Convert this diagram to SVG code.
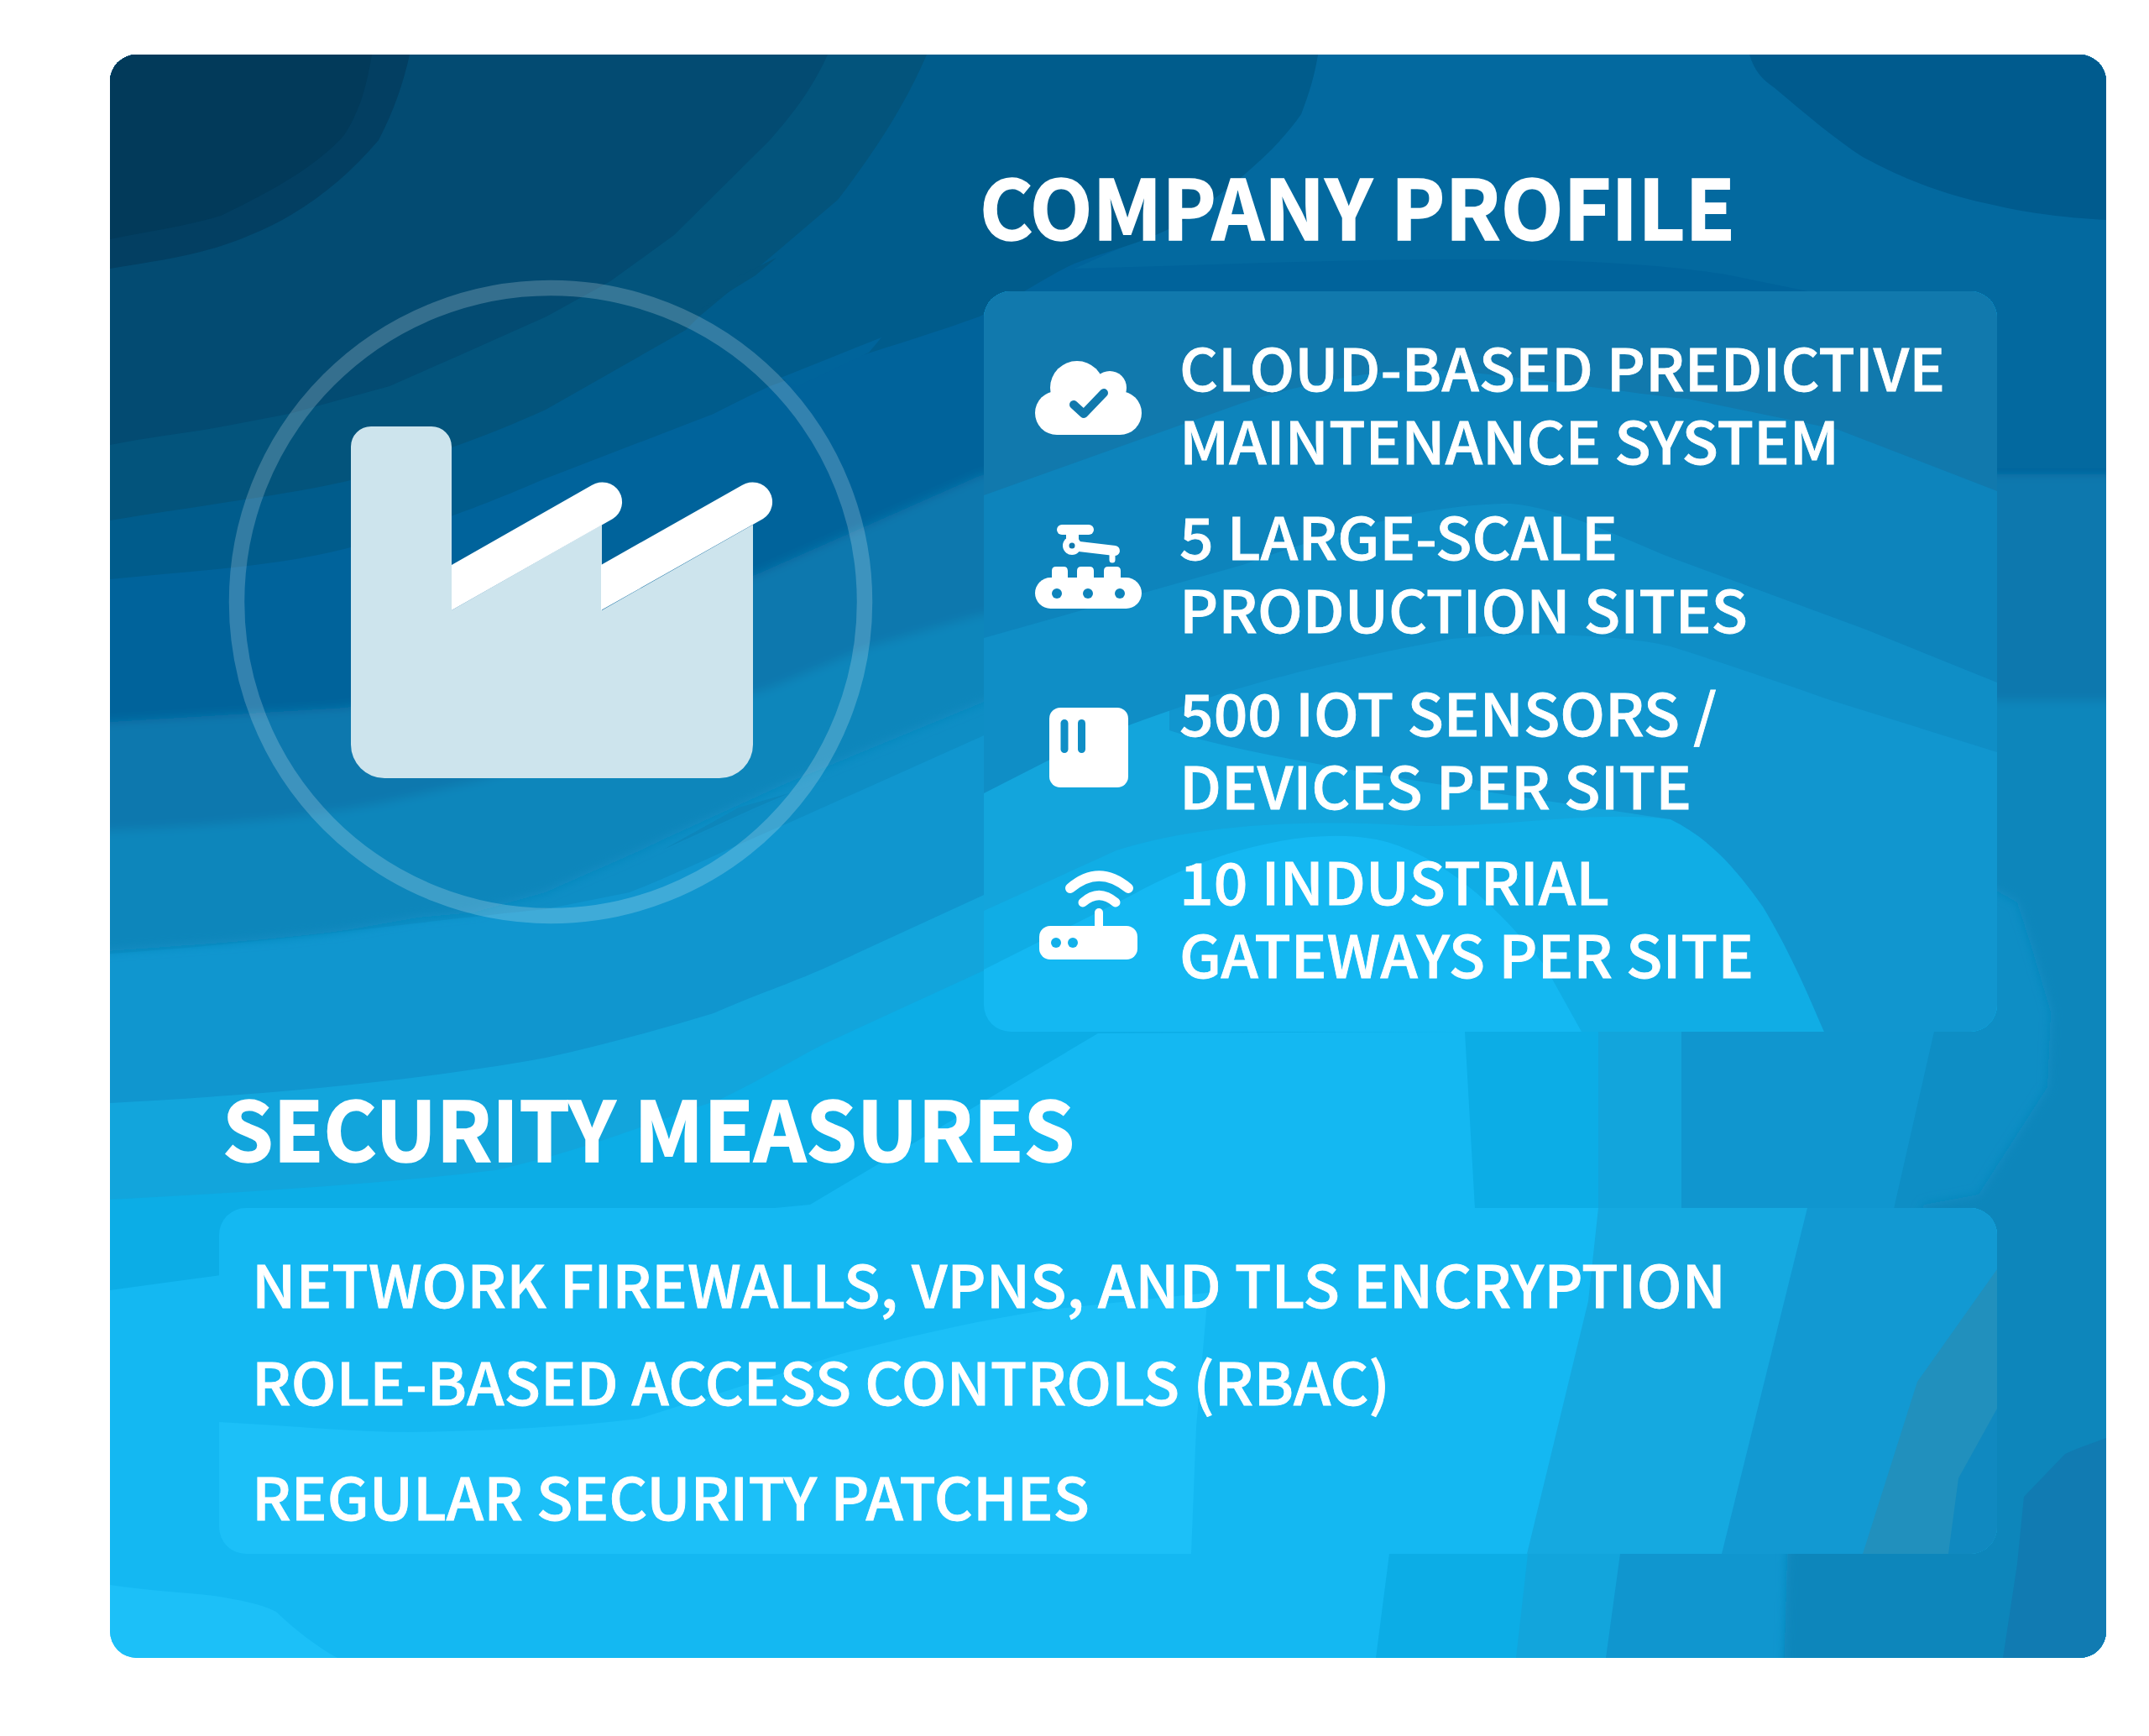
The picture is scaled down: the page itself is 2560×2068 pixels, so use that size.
<svg xmlns="http://www.w3.org/2000/svg" width="2560" height="2068" viewBox="0 0 2560 2068">
<style>
.h{font-family:"Noto Sans CJK SC","Noto Sans","Liberation Sans",sans-serif;font-weight:700;font-size:98px;fill:#fff;stroke:#fff;stroke-width:1.500px}
.t{font-family:"Noto Sans CJK SC","Noto Sans","Liberation Sans",sans-serif;font-weight:500;font-size:69px;fill:#fff;stroke:#fff;stroke-width:.8px}
.w{fill:#fff}
</style>
<defs>
<clipPath id="cc"><rect x="131" y="65" width="2378" height="1910" rx="32"/></clipPath>
<clipPath id="p1"><rect x="1172" y="347" width="1207" height="882" rx="32"/></clipPath>
<clipPath id="p2"><rect x="261" y="1439" width="2118" height="412" rx="32"/></clipPath>
<filter id="soft" x="-5%" y="-5%" width="110%" height="110%"><feGaussianBlur stdDeviation="6"/></filter>
</defs>
<rect width="2560" height="2068" fill="#fff"/>
<g id="background" clip-path="url(#cc)">
<rect x="131" y="65" width="2378" height="1910" fill="#14b8f2"/>
<path fill="#1cc0f8" d="M131,1888C180,1895 220,1897 255,1901C285,1906 310,1910 329,1920C350,1940 375,1960 402,1975H131Z"/>
<path fill="#0cade6" d="M131,1537C400,1500 700,1460 965,1435L1308,1231L1745,1229L1757,1440L1655,1851L1639,1975H2509V65H131Z"/>
<path fill="#12a5dc" d="M131,1429C300,1420 460,1410 590,1394C700,1370 780,1335 857,1310C900,1290 940,1265 983,1243L1170,1157L1400,1100L1904,1229L1904,1440L1820,1851L1806,1975H2509V65H131Z"/>
<path fill="#1096cf" d="M131,1314C300,1305 492,1289 650,1260C720,1245 790,1225 850,1207C900,1185 940,1172 983,1153L1170,1067L1500,900L2003,1229L2003,1440L1930,1851L1913,1975H2509V65H131Z"/>
<path fill="#0e8ec5" d="M131,1136C300,1125 480,1100 650,1083L750,1063C820,1035 880,1005 940,980L1170,877L1500,700L2304,1229L2256,1440L2130,1851L2125,1975H2509V65H131Z"/>
<g filter="url(#soft)">
<path fill="#0d86bb" d="M100,1135C240,1125 364,1117 430,1105L498,1093L564,1087L650,1063C700,1040 750,1020 790,1000L937,933L1170,837L1500,700L2380,1062L2403,1075L2420,1128L2443,1206L2439,1295L2357,1423L2292,1435L2129,1851L2125,2000H2540V30H100Z"/>
<path fill="#1078ae" d="M100,991C250,985 360,975 454,957L571,930L917,820L1037,770L1167,733L1500,700L2380,835H2540V30H100Z"/>
<path fill="#00649b" d="M100,862L414,843L900,685L1167,567L1500,480L2380,565H2540V30H100Z"/>
</g>
<path fill="#03699f" d="M1570,65L1550,136L1419,257L1280,320C1525,314 1851,295 2056,327L2178,352L2379,400V558H2509V65Z"/>
<path fill="#005b8e" d="M2084,65C2090,85 2100,95 2113,104C2150,135 2185,165 2219,187C2280,220 2330,235 2374,244C2420,255 2470,260 2509,262V65Z"/>
<path fill="#005c8c" d="M131,690C230,680 330,675 414,653C480,635 541,617 650,570L850,493C870,483 895,470 917,460C1000,430 1090,405 1167,377C1210,355 1245,330 1280,314C1330,295 1380,285 1419,257C1470,220 1520,180 1550,136C1560,110 1566,90 1570,65H131Z"/>
<path fill="#03547c" d="M131,620C250,600 340,590 414,573C470,555 541,537 650,488L817,393L833,377L917,307L998,238C1050,170 1080,120 1104,65H131Z"/>
<path fill="#034b72" d="M131,530C180,520 230,515 271,507L344,493L464,460L548,423L651,377L727,335L803,280L916,168C950,130 970,100 986,65H131Z"/>
<path fill="#033f62" d="M131,320C190,310 240,305 298,280C360,255 410,215 451,167C470,130 480,100 488,65H131Z"/>
<path fill="#023a5a" d="M131,285C180,275 220,270 263,257C330,225 380,195 410,161C430,130 437,100 443,65H131Z"/>
<path fill="#117bb2" d="M2509,1713C2490,1720 2475,1725 2460,1732L2411,1783L2403,1863L2386,1975H2509Z"/>
<path fill="#03547c" d="M835,368L900,328L925,307L878,330Z"/>
<path fill="#00649b" d="M930,450L1050,402L1035,420L950,460Z"/>
<path fill="#0d86bb" d="M790,1012L900,962L940,945L880,962Z"/>
</g>
<g id="circle"><circle cx="656" cy="717" r="374" fill="none" stroke="#fff" stroke-opacity=".2" stroke-width="18.500"/></g>
<g id="factory">
<path fill="#cde4ed" d="M442,508H514A24,24 0 0 1 538,532V727L717,625V727L897,625V887A40,40 0 0 1 857,927H458A40,40 0 0 1 418,887V532A24,24 0 0 1 442,508Z"/>
<path class="w" d="M538,673L705,578A23,23 0 0 1 730,618L538,727Z"/>
<path class="w" d="M716,673L884,578A23,23 0 0 1 909,618L716,727Z"/>
</g>
<g id="panel-profile" clip-path="url(#p1)">
<rect x="1172" y="347" width="1207" height="882" fill="#14b8f2"/>
<path fill="#10ade5" d="M1172,1155L1347,1067C1450,1010 1560,985 1640,1000C1730,1020 1800,1100 1840,1150L1884,1229H2379V347H1172Z"/>
<path fill="#13a5dc" d="M1172,1085L1330,1013C1450,975 1600,978 1690,984C1800,985 1900,965 1990,976C2040,1000 2073,1042 2100,1080C2130,1130 2150,1175 2173,1229H2379V347H1172Z"/>
<path fill="#1196cf" d="M1393,870C1500,905 1750,940 1990,976C2040,1000 2073,1042 2100,1080C2130,1130 2150,1175 2173,1229H2379V347H1393Z"/>
<path fill="#0f8ec6" d="M1172,945L1280,890C1400,840 1525,799 1729,761C1850,750 1950,760 1990,770C2070,795 2140,820 2190,837L2379,896V347H1172Z"/>
<path fill="#0d84bc" d="M1172,760L1480,673C1600,630 1700,600 1800,600C1860,605 1930,640 1990,664L2223,750L2379,813V347H1172Z"/>
<path fill="#1179ad" d="M1172,590L1480,480C1560,455 1640,440 1700,440C1800,445 1950,470 2010,475L2190,512L2379,585V347H1172Z"/>
</g>
<g id="panel-security" clip-path="url(#p2)">
<rect x="261" y="1439" width="2118" height="412" fill="#14b8f2"/>
<path fill="#1cc0f8" d="M261,1694C340,1698 420,1706 492,1706C590,1704 680,1700 761,1690C840,1665 920,1640 998,1614C1090,1590 1170,1572 1250,1560L1439,1540L1425,1700L1419,1851H261Z"/>
<path fill="#15a9e0" d="M1904,1439L1892,1550L1819,1851H2379V1439Z"/>
<path fill="#1299d2" d="M2153,1439L2051,1851H2379V1439Z"/>
<path fill="#2190bd" d="M2379,1512L2284,1646L2219,1851H2379Z"/>
<path fill="#1089c0" d="M2379,1678L2333,1761L2321,1851H2379Z"/>
</g>
<g id="icon-cloud">
<circle class="w" cx="1283" cy="462" r="32"/><circle class="w" cx="1322" cy="462" r="20"/><circle class="w" cx="1259" cy="492" r="26"/><circle class="w" cx="1334" cy="492" r="26"/><rect class="w" x="1259" y="470" width="75" height="48"/>
<path d="M1279,482L1291,493L1315,468" fill="none" stroke="#1179ad" stroke-width="10" stroke-linecap="round" stroke-linejoin="round"/>
</g>
<g id="icon-robot">
<rect class="w" x="1259" y="625" width="44" height="12" rx="6"/>
<rect class="w" x="1270" y="635" width="15" height="12"/>
<circle class="w" cx="1277" cy="650" r="11"/>
<path d="M1277,650L1328,656" stroke="#fff" stroke-width="12" stroke-linecap="round"/>
<path d="M1325,656V667" stroke="#fff" stroke-width="7" stroke-linecap="round"/>
<circle cx="1277" cy="650" r="3.500" fill="#1179ad"/>
<path class="w" d="M1253,690V680Q1253,675 1258,675H1267Q1272,675 1272,680V690ZM1283,690V680Q1283,675 1288,675H1298Q1303,675 1303,680V690ZM1315,690V680Q1315,675 1320,675H1330Q1335,675 1335,680V690Z"/>
<rect class="w" x="1233" y="688" width="127" height="37" rx="18.500"/>
<circle cx="1259" cy="707" r="6" fill="#0d84bc"/><circle cx="1296" cy="707" r="6" fill="#0d84bc"/><circle cx="1334" cy="707" r="6" fill="#0d84bc"/>
</g>
<g id="icon-sensor">
<rect class="w" x="1250" y="843" width="94" height="95" rx="13"/>
<rect x="1263.500" y="857" width="9" height="40" rx="4.500" fill="#0f8ec6"/><rect x="1284" y="857" width="9" height="40" rx="4.500" fill="#0f8ec6"/>
</g>
<g id="icon-router">
<rect class="w" x="1238" y="1103" width="117" height="40" rx="13"/>
<circle cx="1258" cy="1123" r="6" fill="#12b0ea"/><circle cx="1278" cy="1123" r="6" fill="#12b0ea"/>
<path d="M1309,1087V1105" stroke="#fff" stroke-width="10" stroke-linecap="round"/>
<path d="M1275,1058Q1309,1029 1344,1058" fill="none" stroke="#fff" stroke-width="12" stroke-linecap="round"/>
<path d="M1290,1075Q1309,1058 1329,1075" fill="none" stroke="#fff" stroke-width="11" stroke-linecap="round"/>
</g>
<g id="texts">
<text class="h" x="1167" y="286" textLength="900" lengthAdjust="spacingAndGlyphs">COMPANY PROFILE</text>
<text class="t" x="1405" y="466" textLength="912" lengthAdjust="spacingAndGlyphs">CLOUD-BASED PREDICTIVE</text>
<text class="t" x="1405" y="553" textLength="786" lengthAdjust="spacingAndGlyphs">MAINTENANCE SYSTEM</text>
<text class="t" x="1405" y="667" textLength="522" lengthAdjust="spacingAndGlyphs">5 LARGE-SCALE</text>
<text class="t" x="1405" y="754" textLength="677" lengthAdjust="spacingAndGlyphs">PRODUCTION SITES</text>
<text class="t" x="1405" y="877" textLength="640" lengthAdjust="spacingAndGlyphs">500 IOT SENSORS /</text>
<text class="t" x="1405" y="964" textLength="610" lengthAdjust="spacingAndGlyphs">DEVICES PER SITE</text>
<text class="t" x="1405" y="1078" textLength="512" lengthAdjust="spacingAndGlyphs">10 INDUSTRIAL</text>
<text class="t" x="1405" y="1165" textLength="684" lengthAdjust="spacingAndGlyphs">GATEWAYS PER SITE</text>
<text class="h" x="265" y="1384" textLength="1015" lengthAdjust="spacingAndGlyphs">SECURITY MEASURES</text>
<text class="t" x="300" y="1558" textLength="1756" lengthAdjust="spacingAndGlyphs">NETWORK FIREWALLS, VPNS, AND TLS ENCRYPTION</text>
<text class="t" x="300" y="1674" textLength="1356" lengthAdjust="spacingAndGlyphs">ROLE-BASED ACCESS CONTROLS (RBAC)</text>
<text class="t" x="300" y="1811" textLength="998" lengthAdjust="spacingAndGlyphs">REGULAR SECURITY PATCHES</text>
</g>
</svg>
